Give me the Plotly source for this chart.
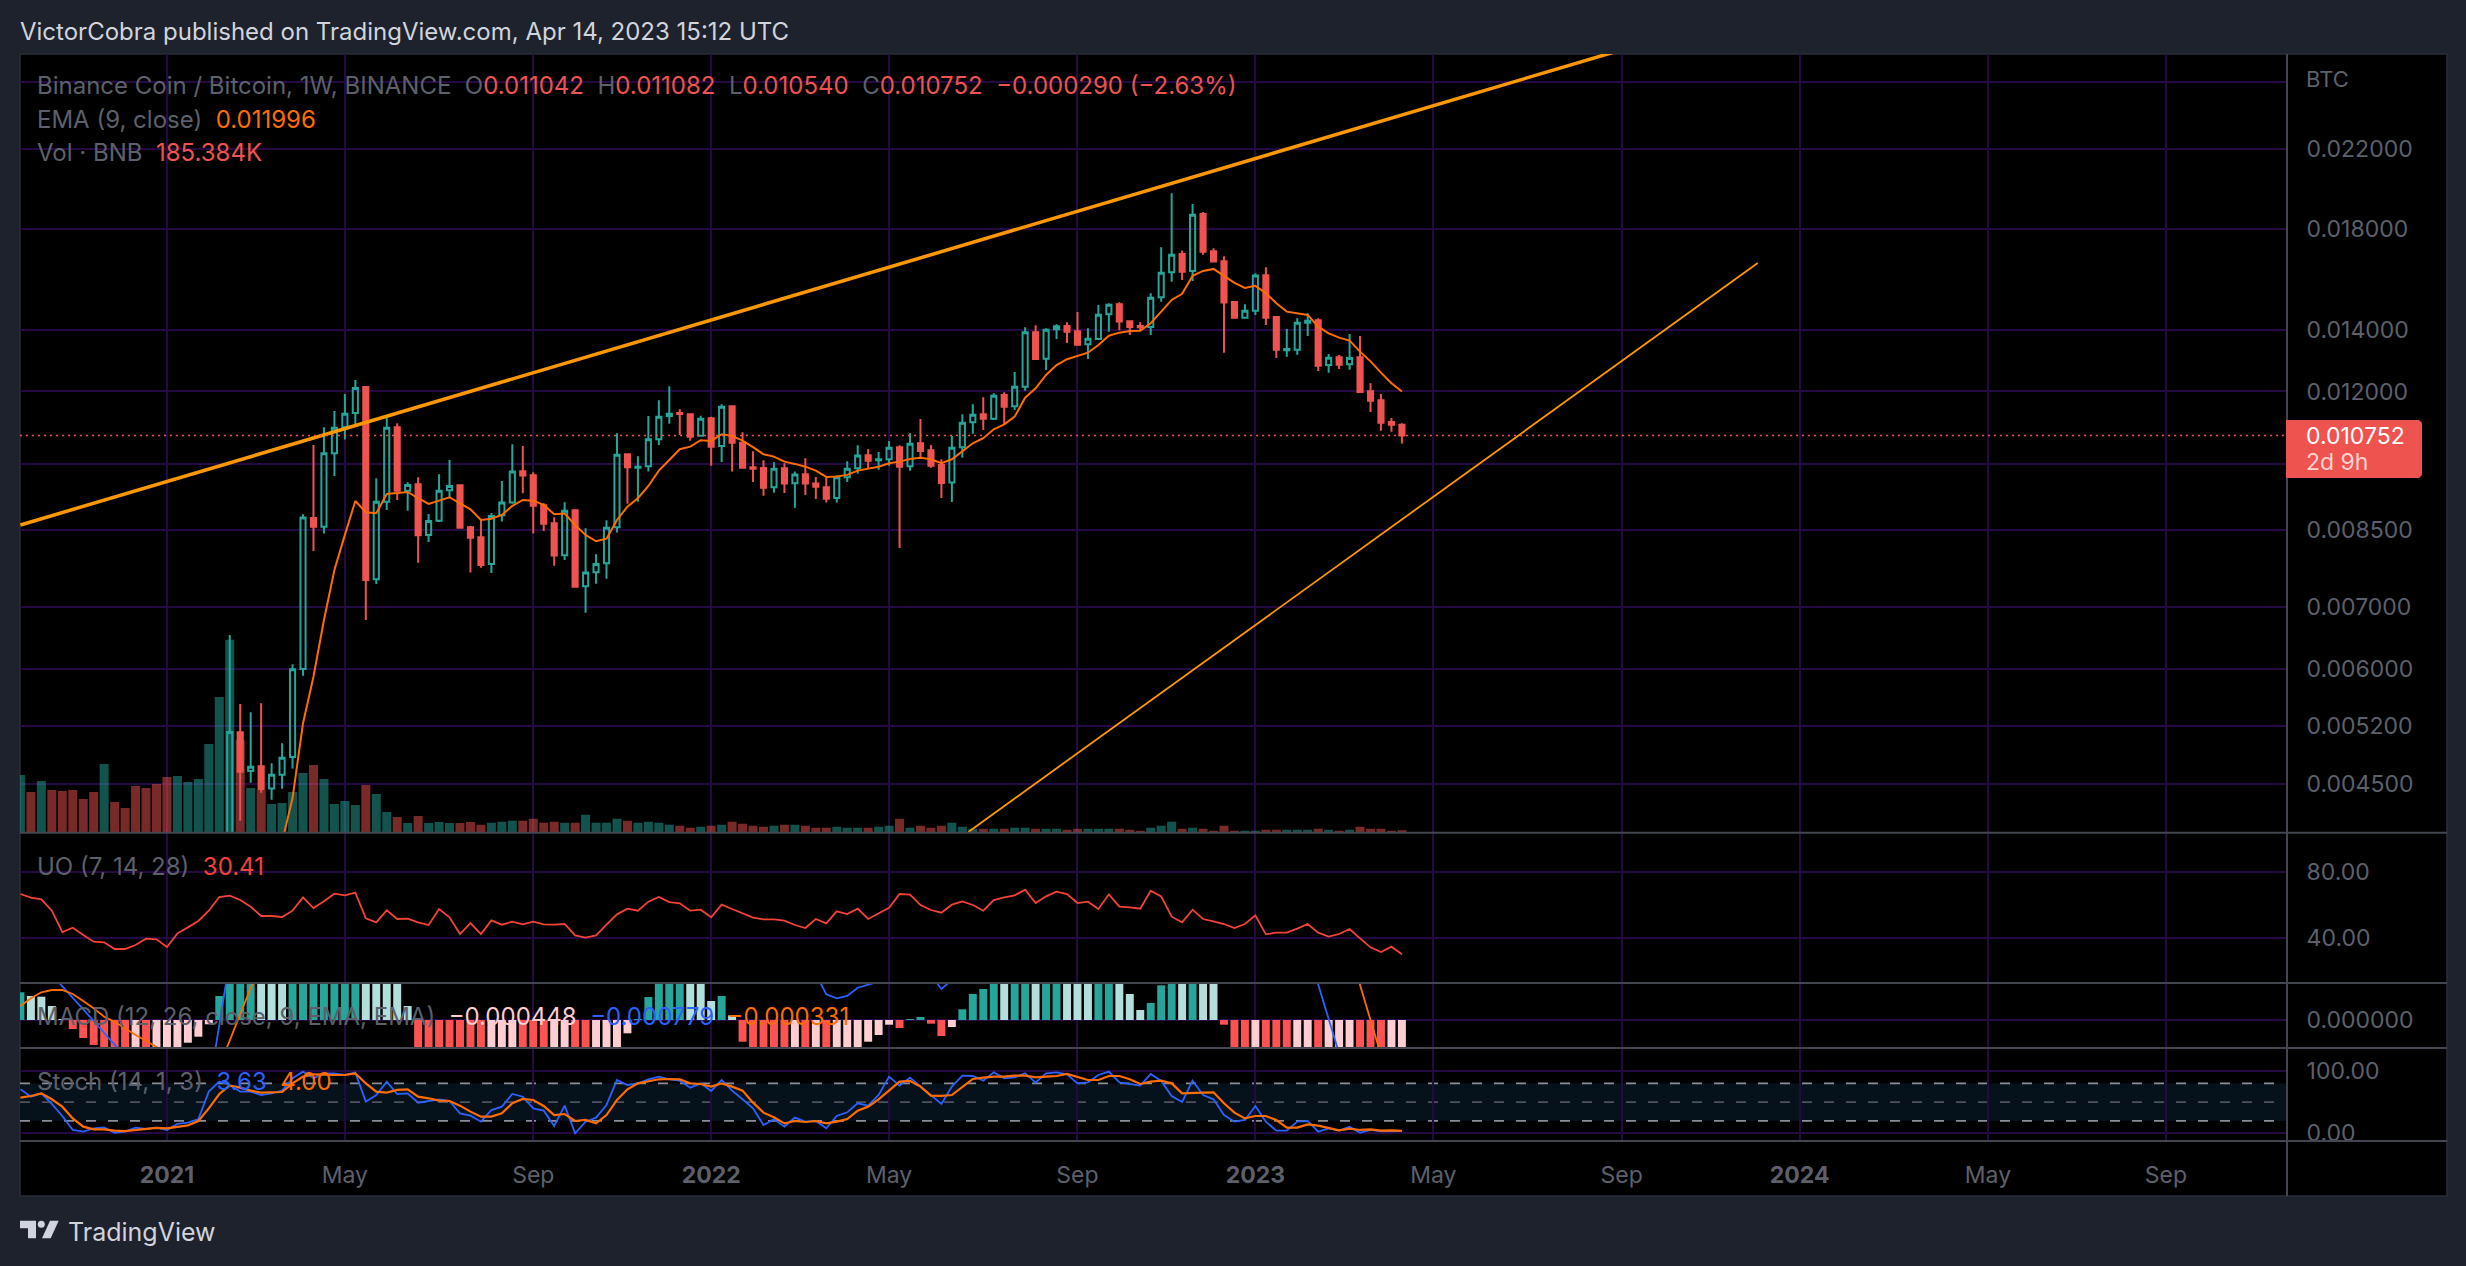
import math
import numpy as np
import pandas as pd
import plotly.graph_objects as go
from plotly.subplots import make_subplots

# layout coordinates below are read on a 2466x1266 picture, the page itself needs 1272 to land on them
W, H = 2466, 1266
PAGE_H = 1272

# weekly bars, first one partly hidden at the left edge
dates = pd.date_range("2020-09-28", periods=133, freq="7D")

# OHLC in millionths of a BTC, starting at the week of 2021-02-15 (earlier candles sit below the pane)
first_candle = 20
opens = [3700,5124,4651,4706,4453,4609,4816,6001,8750,8562,10285,10974,11373,12135,7507,9113,10974,9367,9519,8387,8691,9376,9495,8549,8338,7800,8809,9092,9832,9735,9029,8634,7972,8919,7378,7641,7813,8549,10259,9921,9955,10650,11288,11373,11336,10746,11223,10474,11565,10560,9931,9913,9446,9905,9542,9760,9533,9446,9198,9686,9905,10232,10106,10131,10440,9955,10544,10361,9987,9557,10440,11112,11336,11212,11894,11565,12144,13912,13024,14017,14134,13947,13502,13681,14553,14920,14300,14134,14098,15182,16160,16914,16213,18687,17030,16612,15007,14428,14683,16044,14455,13300,13320,14250,14335,12819,13070,12842,13070,12003,11738,11119,11042]
highs = [6533,5498,5385,5507,4741,4984,6072,8832,10500,10974,11430,11925,12349,12165,9662,11268,11085,9566,9686,8838,9760,10113,9519,8577,8706,8860,9597,10518,10474,9808,9076,8765,9100,8926,8528,7991,8700,10811,10267,10208,11288,11738,12156,11478,11364,11296,11268,11622,11573,10837,10336,10106,10056,10031,9823,10156,9694,9669,9726,10081,10492,10395,10318,10605,10492,10811,11203,10500,10131,10738,11336,11622,11826,11944,11975,12597,14088,14157,14052,14193,14264,14635,14052,14895,14957,14995,14310,14264,15335,17200,19683,17060,19166,18782,17158,16820,15033,14920,16118,16365,14491,14028,14406,14590,14406,13178,13146,13850,13786,12248,11925,11232,11082]
lows = [3500,4108,4518,4406,4329,4449,4679,5900,8058,8414,9718,10640,10983,6782,7418,8926,9152,8910,7825,8241,8663,9191,8540,7633,7728,7627,8671,9068,9307,8414,8470,7767,7878,7370,6907,7426,7519,8436,9068,9113,9823,10500,11073,10765,10613,10719,9970,10063,9823,9921,9573,9251,9320,9313,8978,9268,9175,9092,9092,9573,9773,9905,9871,9970,8119,9847,10156,9921,9198,9106,10171,10794,10900,11175,11063,11458,12023,13014,12661,13681,13546,13488,13014,13647,13933,13981,13818,13957,13818,15017,15786,15853,15814,16885,16596,13219,14428,14406,14527,14169,13046,13089,13154,13786,12629,12577,12693,12670,11964,11401,10880,10853,10540]
closes = [5127,4643,4701,4446,4609,4808,5996,8757,8562,10285,10963,11353,12105,7494,9113,10963,9367,9502,8379,8685,9367,9477,8540,8330,7781,8794,9092,9823,9726,9023,8626,7964,8910,7370,7633,7800,8540,10247,9931,9945,10650,11268,11353,11345,10719,11212,10455,11553,10560,9921,9896,9437,9896,9533,9750,9533,9461,9182,9686,9896,10224,10095,10131,10429,9945,10534,10343,9970,9549,10429,11100,11325,11212,11873,11553,12144,13912,13014,14003,14122,13933,13488,13691,14537,14905,14286,14098,14088,15167,16143,16885,16184,18660,17014,16596,14980,14428,14683,16027,14428,13320,13344,14250,14321,12798,13057,12829,13046,11985,11727,11100,11042,10752]

# EMA 9, millionths of a BTC, it starts below the pane
first_ema = 25
ema = [3896,4347,5240,5885,6782,7684,8387,9129,8875,8853,9290,9307,9337,9191,9060,9136,9214,9076,8941,8706,8734,8816,9016,9152,9136,9039,8832,8845,8598,8387,8255,8309,8706,9000,9191,9477,9847,10113,10387,10455,10623,10605,10785,10738,10613,10440,10259,10197,10071,10014,9945,9847,9694,9702,9743,9847,9905,9945,10031,10071,10139,10171,10131,10031,10131,10325,10544,10676,10919,11055,11268,11815,12096,12504,12819,13005,13109,13219,13477,13791,13898,13957,13967,14229,14646,15081,15313,16016,16213,16295,16016,15734,15540,15620,15335,14957,14646,14590,14527,14105,13875,13725,13623,13255,12936,12577,12248,11996]

# volume in thousands of BNB
volume = [4270,3012,3826,3160,3086,3160,2494,3012,5084,2272,1828,3456,3308,3604,4122,4196,3752,3974,6564,10042,14282,6882,3308,3182,2124,2198,3012,4418,5010,3974,2124,2346,2050,3530,2864,1532,1162,718,1236,718,792,718,718,792,592,740,814,888,888,1036,740,814,740,740,1332,740,740,1036,888,740,814,740,592,518,370,444,518,592,814,666,518,444,518,592,592,518,370,370,444,370,370,370,444,518,1036,370,518,370,518,740,444,296,296,296,296,370,370,296,296,296,222,296,296,296,296,296,222,148,370,518,814,296,370,296,148,518,148,148,148,222,222,222,222,222,296,222,148,222,444,296,296,148,185]
volume_dir_early = "grgrrrrrgrrrrrrggggg"

uo = [66.6,64.4,63.4,56.6,43.8,46.4,42,38,37.6,33.6,33.6,36,39.8,39.4,34.8,43,46.6,50.4,56.6,64.8,65.6,63,59,53.4,53.4,52.8,56.6,64.6,58.2,62.2,66.8,65.8,67.4,52,49.6,56.8,51.6,51.8,49.6,48,57.6,52.6,42.6,49.2,42.6,50.8,48.2,50,48.4,50,48.4,48.2,48.6,41.8,40.4,41.8,48.2,54.4,57.8,56.6,62,64.8,61.8,61,56.6,57.2,52.6,60.2,57.6,55,52.4,51.4,51.4,50.6,48,46.2,51.6,49,56.2,54.6,57.8,51.6,55,58.4,66.6,66.2,60,57,55.4,60.2,62.2,60,56.6,63,64.6,65.8,69.2,61.2,65.2,68,66.6,61.2,62,57.6,66.4,59,58.6,57.8,68.6,65.2,53,49.6,57.2,51.6,50.2,48.6,46.2,48.6,53.8,42.4,43.4,43.4,45.8,48.6,43.4,41,42.6,45.6,40,34.6,31.8,35,30.41]

# MACD histogram in millionths, values beyond the pane edge are rough
macd_hist = [277,240,233,140,5,-90,-180,-250,-330,-360,-380,-370,-390,-380,-360,-300,-227,-167,-43,240,450,500,550,520,500,470,480,500,520,550,580,600,620,580,520,460,400,140,-300,-320,-340,-360,-380,-400,-420,-410,-400,-390,-395,-405,-420,-410,-400,-410,-420,-400,-370,-320,-133,7,230,400,450,480,460,400,190,240,47,-217,-300,-330,-360,-390,-380,-400,-390,-410,-380,-350,-310,-217,-150,-47,-80,10,30,-37,-160,-70,107,260,310,400,390,420,450,430,460,490,470,440,400,420,450,400,260,100,170,347,420,410,430,400,380,-47,-300,-340,-320,-340,-360,-380,-370,-360,-380,-370,-360,-350,-380,-420,-470,-460,-448]

# MACD and signal lines only show in short stretches, bar numbers count from dates[0]
macd_bars = [3,4,5,6,7,8,9,10,None,18,19,20,None,75,76,77,78,79,80,81,82,None,87,88,89,None,123,124,125,126]
macd_line = [453,340,223,107,-10,-127,-243,-367,None,-700,-33,600,None,667,467,257,217,240,323,357,383,None,450,310,400,None,700,350,17,-333]
signal_bars = [0,1,2,3,4,5,6,7,8,9,10,11,12,13,14,None,19,20,21,22,23,None,127,128,129,130]
signal_line = [140,217,277,300,300,260,190,117,33,-17,-83,-150,-207,-267,-333,None,-467,-210,57,320,583,None,700,350,0,-350]

stoch_k = [70.6,58.8,64.2,47.1,27.8,5.4,2.7,8,9.6,1,2.7,9.1,7,9.1,5.4,15,17.1,23,66.9,83,77.6,66.9,66.9,61.5,64.2,68.5,88.3,99,88.3,96.3,96.3,93.6,97.4,50.8,61.5,83,63.1,64.2,49.2,51.9,54.6,51.9,32.1,28.4,18.7,37.4,42.8,63.1,58.8,40.1,36.4,11.8,44.4,0,18.7,25.2,45.5,85.6,77.6,80.2,86.7,91,86.7,84.5,73.3,80.2,68,85.6,68.5,54.6,40.1,13.4,22.5,10.7,25.2,18.7,19.8,8,27.8,33.7,48.2,44.4,61.5,91,76.5,89.3,74.9,60.5,47.1,74.9,92.6,92,84.5,97.9,88.3,89.9,96.3,81.3,96.3,97.9,94.7,80.2,81.8,93.6,99,81.8,78.6,76.5,95.2,84,59.9,50.3,84.5,61.5,54.6,29.4,18.7,21.4,43.9,18.7,4.3,4.3,18.7,19.8,2.7,8,4.3,10.7,1,5.4,3.2,3.7,3.63]
stoch_d = [57.2,59.9,64.2,54.6,42.8,24,10.7,6.4,6.4,4.3,3.7,5.4,7,8.6,8,10.7,12.8,19.8,40.1,63.1,76.5,73.3,68.5,65.3,65.3,66.3,80.2,91,94.7,93.6,93.6,93.6,96.3,80.2,66.9,65.3,69.6,70.6,58.8,56.2,52.4,51.9,44.4,34.8,26.8,26.8,32.1,48.2,55.1,53.5,43.9,29.4,31,19.8,21.4,16,29.4,53.5,70.6,80.2,83,86.7,87.2,86.7,80.2,79.2,74.9,80.2,74.9,68.5,49.2,33.2,25.7,16,19.8,18.2,19.8,16,18.7,23,36.4,42.8,54.6,69.6,83,84,74.9,60.5,60,61.5,74.9,87.2,89.3,91,91,92.6,92.6,89.9,91,92,95.2,89.9,85.6,85.6,92,92,86.7,79.2,83,84.5,80.2,64.2,65.3,65.3,65.8,48.2,33.2,24,27.8,27.8,21.4,9.1,9.1,14.4,12.3,8.6,4.8,7.5,5.4,6.4,4.3,4.8,4.0]

# trend lines drawn on the chart
upper_trend_x = ["2020-09-28", "2023-12-04"]
upper_trend_y = [8598, 31150]
lower_trend_x = ["2022-06-24", "2023-12-04"]
lower_trend_y = [3995, 16537]
last_close = 10752

price_ticks = [0.026, 0.022, 0.018, 0.014, 0.012, 0.010, 0.0085, 0.007, 0.006, 0.0052, 0.0045]
price_labels = ["", "0.022000", "0.018000", "0.014000", "0.012000", "", "0.008500", "0.007000", "0.006000", "0.005200", "0.004500"]
time_ticks = ["2021-01-04", "2021-05-03", "2021-09-06", "2022-01-03", "2022-05-02", "2022-09-05", "2023-01-02", "2023-05-01", "2023-09-04", "2024-01-01", "2024-05-06", "2024-09-02"]
time_labels = ["<b>2021</b>", "May", "Sep", "<b>2022</b>", "May", "Sep", "<b>2023</b>", "May", "Sep", "<b>2024</b>", "May", "Sep"]
x_range = ["2020-09-27 17:00", "2024-11-22"]

UP = "#26a69a"
DOWN = "#ef5350"
ORANGE = "#ff9800"
EMA_ORANGE = "#ff6d00"
BLUE = "#2962ff"
UO_RED = "#f44336"
GRID = "#240942"
MUTED = "#5d606b"
FONT = "Inter"
WEEK_MS = 7 * 24 * 3600 * 1000


def px_x(x):
    return x / W


def px_y(y):
    return 1 - y / H


def dom(top, bottom):
    return [px_y(bottom), px_y(top)]


def micro(vals):
    return [None if v is None else v / 1e6 for v in vals]


def bar_x(bars):
    return [None if b is None else dates[b] for b in bars]


candle_dates = dates[first_candle:]
up_flags = [c >= o for o, c in zip(opens, closes)]
vol_up = [d == "g" for d in volume_dir_early] + up_flags
vol_colors = ["rgba(38,166,154,0.5)" if u else "rgba(239,83,80,0.5)" for u in vol_up]

hist_colors = []
for i, v in enumerate(macd_hist):
    prev = macd_hist[i - 1] if i else None
    if v >= 0:
        hist_colors.append("#26a69a" if prev is None or v >= prev else "#b2dfdb")
    else:
        hist_colors.append("#ff5252" if v < prev else "#ffcdd2")

fig = make_subplots(rows=4, cols=1, shared_xaxes=True, vertical_spacing=0,
                    specs=[[{"secondary_y": True}], [{}], [{}], [{}]])

# black panel behind everything, has to come before the other low shapes
fig.add_shape(type="rect", xref="paper", yref="paper", x0=px_x(20), x1=px_x(2447), y0=px_y(1196), y1=px_y(54),
              fillcolor="#000000", line=dict(color="#2a2e39", width=1.5), layer="below")

fig.add_trace(go.Bar(x=dates, y=volume, marker=dict(color=vol_colors, line_width=0),
                     width=WEEK_MS * 0.86), row=1, col=1)
fig.add_trace(go.Candlestick(x=candle_dates, open=micro(opens), high=micro(highs), low=micro(lows), close=micro(closes),
                             increasing=dict(line=dict(color=UP, width=2), fillcolor="rgba(0,0,0,0)"),
                             decreasing=dict(line=dict(color=DOWN, width=2), fillcolor=DOWN),
                             whiskerwidth=0), row=1, col=1, secondary_y=True)
fig.add_trace(go.Scatter(x=dates[first_ema:], y=micro(ema), mode="lines",
                         line=dict(color=EMA_ORANGE, width=2)), row=1, col=1, secondary_y=True)
fig.add_trace(go.Scatter(x=upper_trend_x, y=micro(upper_trend_y), mode="lines",
                         line=dict(color=ORANGE, width=3.5)), row=1, col=1, secondary_y=True)
fig.add_trace(go.Scatter(x=lower_trend_x, y=micro(lower_trend_y), mode="lines",
                         line=dict(color=ORANGE, width=1.8)), row=1, col=1, secondary_y=True)
fig.add_trace(go.Scatter(x=x_range, y=micro([last_close, last_close]), mode="lines",
                         line=dict(color=DOWN, width=1.5, dash="2px,4px")), row=1, col=1, secondary_y=True)

fig.add_trace(go.Scatter(x=dates, y=uo, mode="lines", line=dict(color=UO_RED, width=1.8)), row=2, col=1)

fig.add_trace(go.Bar(x=dates, y=micro(macd_hist), marker=dict(color=hist_colors, line_width=0),
                     width=WEEK_MS * 0.76), row=3, col=1)
fig.add_trace(go.Scatter(x=bar_x(macd_bars), y=micro(macd_line), mode="lines",
                         line=dict(color=BLUE, width=1.8)), row=3, col=1)
fig.add_trace(go.Scatter(x=bar_x(signal_bars), y=micro(signal_line), mode="lines",
                         line=dict(color=EMA_ORANGE, width=1.8)), row=3, col=1)

fig.add_trace(go.Scatter(x=dates, y=stoch_k, mode="lines", line=dict(color=BLUE, width=1.8)), row=4, col=1)
fig.add_trace(go.Scatter(x=dates, y=stoch_d, mode="lines", line=dict(color=EMA_ORANGE, width=2.2)), row=4, col=1)

# stochastic band and its dashed levels
fig.add_hrect(y0=20, y1=80, row=4, col=1, fillcolor="#06121b", line_width=0, layer="below")
for lvl, col in [(80, "#8b8e99"), (50, "#4f525c"), (20, "#8b8e99")]:
    fig.add_hline(y=lvl, row=4, col=1, line=dict(color=col, width=1.8, dash="10px,12px"), layer="below")
fig.add_hline(y=0, row=3, col=1, line=dict(color="rgba(120,123,134,0.55)", width=1.8, dash="10px,12px"), layer="below")

x_common = dict(domain=[px_x(20), px_x(2287)], range=x_range, type="date", tickmode="array",
                tickvals=time_ticks, ticktext=time_labels, showgrid=True, gridcolor=GRID, gridwidth=1.8,
                zeroline=False, showline=False, rangeslider=dict(visible=False))
y_common = dict(side="right", showgrid=True, gridcolor=GRID, gridwidth=1.8, zeroline=False, showline=False,
                ticks="outside", ticklen=14, tickcolor="rgba(0,0,0,0)", tickfont=dict(family=FONT, size=23, color=MUTED))

fig.update_layout(
    width=W, height=PAGE_H, margin=dict(l=0, r=0, t=0, b=0), showlegend=False,
    paper_bgcolor="#1e222d", plot_bgcolor="#000000", barmode="overlay", hovermode=False,
    font=dict(family=FONT),
    xaxis=dict(x_common, showticklabels=False, ticks=""),
    xaxis2=dict(x_common, showticklabels=False, ticks=""),
    xaxis3=dict(x_common, showticklabels=False, ticks=""),
    xaxis4=dict(x_common, ticks="outside", ticklen=13, tickcolor="rgba(0,0,0,0)",
                tickfont=dict(family=FONT, size=23, color=MUTED)),
    yaxis=dict(domain=dom(54, 832.7), range=[0, 57624], visible=False, showgrid=False),
    yaxis2=dict(y_common, domain=dom(54, 832.7), type="log", range=[math.log10(0.003987), math.log10(0.02787)],
                tickmode="array", tickvals=price_ticks, ticktext=price_labels),
    yaxis3=dict(y_common, domain=dom(832.7, 983), range=[13.2, 103.4], tickmode="array", tickvals=[40, 80],
                ticktext=["40.00", "80.00"]),
    yaxis4=dict(y_common, domain=dom(983, 1048), range=[-0.00028, 0.00037], tickmode="array", tickvals=[0],
                ticktext=["0.000000"]),
    yaxis5=dict(y_common, domain=dom(1048, 1141), range=[-12.3, 136.9], tickmode="array", tickvals=[0, 100],
                ticktext=["0.00", "100.00"]),
)


def label(x, y, text, size=24, color=MUTED, anchor="left"):
    fig.add_annotation(x=px_x(x), y=px_y(y), xref="paper", yref="paper", text=text, showarrow=False,
                       xanchor=anchor, yanchor="middle", align="left", font=dict(family=FONT, size=size, color=color))


def span(text, color):
    return f'<span style="color:{color}">{text}</span>'


sp = "&nbsp;&nbsp;"
label(18, 31, "VictorCobra published on TradingView.com, Apr 14, 2023 15:12 UTC", size=24, color="#d1d4dc")
label(34.5, 86, "Binance Coin / Bitcoin, 1W, BINANCE" + sp + "O" + span("0.011042", DOWN) + sp + "H" + span("0.011082", DOWN)
      + sp + "L" + span("0.010540", DOWN) + sp + "C" + span("0.010752", DOWN) + sp + span("−0.000290 (−2.63%)", DOWN))
label(34.5, 120, "EMA (9, close)" + sp + span("0.011996", EMA_ORANGE))
label(34.5, 153, "Vol · BNB" + sp + span("185.384K", DOWN))
label(34.5, 866, "UO (7, 14, 28)" + sp + span("30.41", UO_RED))
label(34.5, 1016, "MACD (12, 26, close, 9, EMA, EMA)" + sp + span("−0.000448", "#ffcdd2") + sp + span("−0.000779", BLUE)
      + sp + span("−0.000331", EMA_ORANGE))
label(34.5, 1081, "Stoch (14, 1, 3)" + sp + span("3.63", BLUE) + sp + span("4.00", EMA_ORANGE))
label(2304, 79, "BTC", size=22)
label(66, 1232, "TradingView", size=25, color="#d1d4dc")


def path(points):
    return "M" + " L".join(f"{px_x(x)},{px_y(y)}" for x, y in points) + " Z"


# pane separators
for y in [832.7, 983, 1048, 1141]:
    fig.add_shape(type="line", xref="paper", yref="paper", x0=px_x(20), x1=px_x(2447), y0=px_y(y), y1=px_y(y),
                  line=dict(color="#43464f", width=2))
fig.add_shape(type="line", xref="paper", yref="paper", x0=px_x(2287), x1=px_x(2287), y0=px_y(54), y1=px_y(1196),
              line=dict(color="#43464f", width=2))
# last price tag
fig.add_shape(type="path", xref="paper", yref="paper", fillcolor=DOWN, line_width=0,
              path=path([(2286, 420), (2419, 420), (2422, 423), (2422, 475), (2419, 478), (2286, 478)]))
label(2304, 436, "0.010752", size=23, color="#ffffff")
label(2304, 462, "2d 9h", size=23, color="#ffd3d2")
# TradingView mark
logo = "#d1d4dc"
fig.add_shape(type="path", xref="paper", yref="paper", fillcolor=logo, line_width=0,
              path=path([(20, 1220.7), (36, 1220.7), (36, 1238.3), (28, 1238.3), (28, 1228.3), (20, 1228.3)]))
fig.add_shape(type="path", xref="paper", yref="paper", fillcolor=logo, line_width=0,
              path=path([(50, 1220.7), (58.7, 1220.7), (50.7, 1238.3), (42, 1238.3)]))
fig.add_shape(type="circle", xref="paper", yref="paper", fillcolor=logo, line_width=0,
              x0=px_x(37.8), x1=px_x(44.8), y0=px_y(1227.8), y1=px_y(1220.8))

assert len(opens) == len(highs) == len(lows) == len(closes) == 113
assert len(volume) == len(uo) == len(macd_hist) == len(stoch_k) == len(stoch_d) == 133
assert len(ema) == 108

fig.write_html("out.html", config={"displayModeBar": False}, post_script="document.body.style.margin='0';")
